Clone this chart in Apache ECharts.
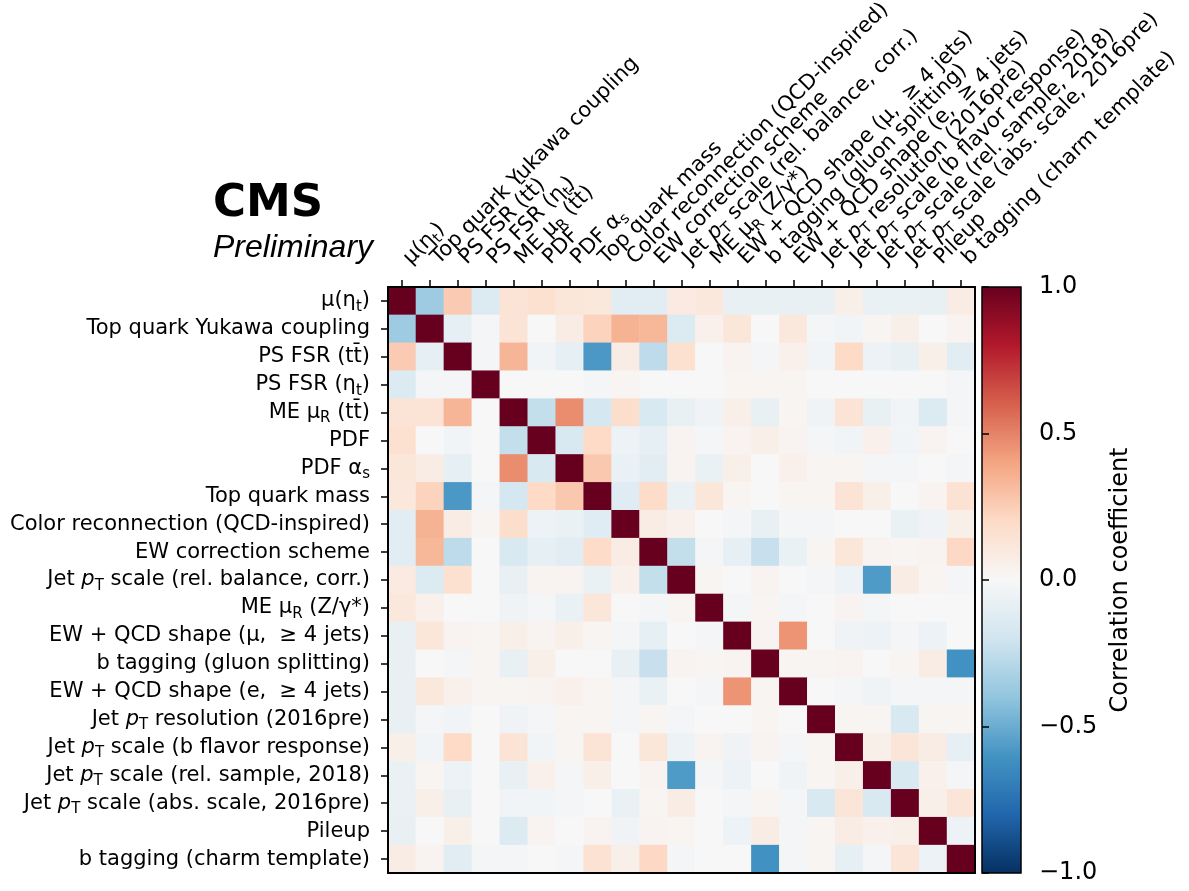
<!DOCTYPE html>
<html>
<head>
<meta charset="utf-8">
<script src="https://cdn.jsdelivr.net/npm/echarts@6/dist/echarts.min.js"></script>
<style>
  html, body { margin: 0; padding: 0; background: #fff; }
  #chart { width: 1189px; height: 891px; }
</style>
</head>
<body>
<div id="chart"></div>
<script>
// Nuisance parameter names (rich-text markup: {sub|..} subscript, {it|..} italic)
const labels = [
  'μ(η{sub|t})',
  'Top quark Yukawa coupling',
  'PS FSR (tt̄)',
  'PS FSR (η{sub|t})',
  'ME μ{sub|R} (tt̄)',
  'PDF',
  'PDF α{sub|s}',
  'Top quark mass',
  'Color reconnection (QCD-inspired)',
  'EW correction scheme',
  'Jet {it|p}{sub|T} scale (rel. balance, corr.)',
  'ME μ{sub|R} (Z/γ*)',
  'EW + QCD shape (μ,  ≥ 4 jets)',
  'b tagging (gluon splitting)',
  'EW + QCD shape (e,  ≥ 4 jets)',
  'Jet {it|p}{sub|T} resolution (2016pre)',
  'Jet {it|p}{sub|T} scale (b flavor response)',
  'Jet {it|p}{sub|T} scale (rel. sample, 2018)',
  'Jet {it|p}{sub|T} scale (abs. scale, 2016pre)',
  'Pileup',
  'b tagging (charm template)'
];

// Correlation matrix, one row per parameter (same order as labels)
const corr = [
  [1, -0.36, 0.26, -0.14, 0.14, 0.16, 0.12, 0.11, -0.11, -0.11, 0.09, 0.11, -0.08, -0.08, -0.08, -0.08, 0.06, -0.07, -0.07, -0.08, 0.08],
  [-0.36, 1, -0.09, -0.02, 0.14, 0, 0.08, 0.23, 0.35, 0.33, -0.14, 0.05, 0.12, 0, 0.11, -0.02, -0.03, 0.02, 0.06, 0, 0.03],
  [0.26, -0.09, 1, -0.02, 0.34, -0.03, -0.09, -0.58, 0.08, -0.26, 0.16, 0, 0.03, -0.02, 0.05, -0.03, 0.2, -0.06, -0.08, 0.06, -0.11],
  [-0.14, -0.02, -0.02, 1, 0, 0, 0, -0.02, 0.02, 0, 0, 0, 0.02, 0.02, 0.02, 0, 0, 0, 0, 0, -0.02],
  [0.14, 0.14, 0.34, 0, 1, -0.24, 0.47, -0.18, 0.18, -0.16, -0.08, -0.04, 0.06, -0.08, 0.02, -0.04, 0.14, -0.08, -0.03, -0.14, -0.02],
  [0.16, 0, -0.03, 0, -0.24, 1, -0.16, 0.2, -0.06, -0.09, 0.03, -0.02, 0.03, 0.06, 0.03, -0.02, -0.03, 0.05, -0.03, 0.03, 0],
  [0.12, 0.08, -0.09, 0, 0.47, -0.16, 1, 0.27, -0.07, -0.11, 0.03, -0.07, 0.06, 0, 0.05, 0.02, 0.02, -0.02, -0.02, 0, -0.02],
  [0.11, 0.23, -0.58, -0.02, -0.18, 0.2, 0.27, 1, -0.12, 0.19, -0.07, 0.12, 0.02, 0, 0.02, 0.02, 0.14, 0.06, 0, 0.03, 0.15],
  [-0.11, 0.35, 0.08, 0.02, 0.18, -0.06, -0.07, -0.12, 1, 0.08, 0.05, 0, -0.02, -0.08, -0.02, -0.02, 0, 0, -0.07, -0.04, 0.06],
  [-0.11, 0.33, -0.26, 0, -0.16, -0.09, -0.11, 0.19, 0.08, 1, -0.24, -0.02, -0.09, -0.23, -0.07, 0.02, 0.12, 0.03, 0.02, 0.03, 0.21],
  [0.09, -0.14, 0.16, 0, -0.08, 0.03, 0.03, -0.07, 0.05, -0.24, 1, 0.02, 0, 0.03, 0, -0.02, -0.06, -0.57, 0.08, 0.02, -0.02],
  [0.11, 0.05, 0, 0, -0.04, -0.02, -0.07, 0.12, 0, -0.02, 0.02, 1, -0.02, 0.02, -0.02, 0, 0.03, -0.02, 0, 0, 0],
  [-0.08, 0.12, 0.03, 0.02, 0.06, 0.03, 0.06, 0.02, -0.02, -0.09, 0, -0.02, 1, 0.03, 0.45, 0, -0.04, -0.06, -0.02, -0.06, 0],
  [-0.08, 0, -0.02, 0.02, -0.08, 0.06, 0, 0, -0.08, -0.23, 0.03, 0.02, 0.03, 1, 0.02, 0.02, 0.03, 0, 0.02, 0.08, -0.61],
  [-0.08, 0.11, 0.05, 0.02, 0.02, 0.03, 0.05, 0.02, -0.02, -0.07, 0, -0.02, 0.45, 0.02, 1, 0, -0.02, -0.04, -0.02, -0.02, -0.02],
  [-0.08, -0.02, -0.03, 0, -0.04, -0.02, 0.02, 0.02, -0.02, 0.02, -0.02, 0, 0, 0.02, 0, 1, 0.02, 0.02, -0.16, 0.02, 0.02],
  [0.06, -0.03, 0.2, 0, 0.14, -0.03, 0.02, 0.14, 0, 0.12, -0.06, 0.03, -0.04, 0.03, -0.02, 0.02, 1, 0.06, 0.13, 0.08, -0.09],
  [-0.07, 0.02, -0.06, 0, -0.08, 0.05, -0.02, 0.06, 0, 0.03, -0.57, -0.02, -0.06, 0, -0.04, 0.02, 0.06, 1, -0.16, 0.05, -0.02],
  [-0.07, 0.06, -0.08, 0, -0.03, -0.03, -0.02, 0, -0.07, 0.02, 0.08, 0, -0.02, 0.02, -0.02, -0.16, 0.13, -0.16, 1, 0.06, 0.13],
  [-0.08, 0, 0.06, 0, -0.14, 0.03, 0, 0.03, -0.04, 0.03, 0.02, 0, -0.06, 0.08, -0.02, 0.02, 0.08, 0.05, 0.06, 1, -0.06],
  [0.08, 0.03, -0.11, -0.02, -0.02, 0, -0.02, 0.15, 0.06, 0.21, -0.02, 0, 0, -0.61, -0.02, 0.02, -0.09, -0.02, 0.13, -0.06, 1]
];

// Colour bar range and tick positions
const cbarMin = -1;
const cbarMax = 1;
const cbarTicks = [-1, -0.5, 0, 0.5, 1];

// Diverging red-blue palette, ordered from -1 to +1
const rdbu = ['#053061', '#2166ac', '#4393c3', '#92c5de', '#d1e5f0', '#f7f7f7',
              '#fddbc7', '#f4a582', '#d6604d', '#b2182b', '#67001f'];

const cells = [];
corr.forEach((row, i) => row.forEach((v, j) => cells.push([j, i, v])));

const FONT = 'DejaVu Sans';
const LABEL_SIZE = 21;
const richLabel = {
  sub: { fontSize: 15, lineHeight: 15, verticalAlign: 'bottom', fontFamily: FONT, color: '#000' },
  it: { fontStyle: 'italic', fontSize: LABEL_SIZE, fontFamily: FONT, color: '#000' }
};

const chart = echarts.init(document.getElementById('chart'), null, { renderer: 'canvas' });

const gradStops = rdbu.slice().reverse().map((c, k) => ({ offset: k / (rdbu.length - 1), color: c }));

chart.setOption({
  animation: false,
  backgroundColor: '#fff',
  grid: [
    { left: 388, top: 287, width: 587, height: 586, containLabel: false, outerBoundsMode: 'none' },
    { left: 982, top: 287, width: 39, height: 586, containLabel: false, outerBoundsMode: 'none' }
  ],
  xAxis: [
    {
      type: 'category', gridIndex: 0, position: 'top', data: labels, z: 10,
      axisLine: { show: true, lineStyle: { color: '#000', width: 2 } },
      axisTick: { show: true, alignWithLabel: true, length: 7, lineStyle: { color: '#000', width: 1.5 } },
      splitLine: { show: false },
      axisLabel: {
        interval: 0, rotate: -45, margin: 21, padding: [0, 0, 0, 7],
        fontSize: LABEL_SIZE, fontFamily: FONT, color: '#000',
        lineHeight: 27, rich: richLabel
      }
    },
    {
      type: 'category', gridIndex: 0, position: 'bottom', data: labels, z: 10,
      axisLine: { show: true, lineStyle: { color: '#000', width: 2 } },
      axisTick: { show: false }, axisLabel: { show: false }, splitLine: { show: false }
    },
    { type: 'value', gridIndex: 1, min: 0, max: 1, show: false }
  ],
  yAxis: [
    {
      type: 'category', gridIndex: 0, inverse: true, data: labels, z: 10,
      axisLine: { show: true, lineStyle: { color: '#000', width: 2 } },
      axisTick: { show: true, alignWithLabel: true, length: 7, lineStyle: { color: '#000', width: 1.5 } },
      splitLine: { show: false },
      axisLabel: {
        interval: 0, margin: 18, fontSize: LABEL_SIZE, fontFamily: FONT, color: '#000',
        lineHeight: 27, rich: richLabel
      }
    },
    {
      type: 'category', gridIndex: 0, position: 'right', inverse: true, data: labels, z: 10,
      axisLine: { show: true, lineStyle: { color: '#000', width: 2 } },
      axisTick: { show: false }, axisLabel: { show: false }, splitLine: { show: false }
    },
    {
      type: 'value', gridIndex: 1, position: 'right', min: cbarMin, max: cbarMax, interval: 0.5, z: 10,
      axisLine: { show: false },
      axisTick: { show: true, length: 7, lineStyle: { color: '#000', width: 1.5 } },
      splitLine: { show: false },
      axisLabel: {
        margin: 18, fontSize: 24, fontFamily: FONT, color: '#000',
        formatter: v => cbarTicks.includes(v) ? (v < 0 ? '\u2212' : '') + Math.abs(v).toFixed(1) : ''
      },
      name: 'Correlation coefficient', nameLocation: 'middle', nameRotate: 90, nameGap: 88,
      nameTextStyle: { fontSize: 24, fontFamily: FONT, color: '#000' }
    }
  ],
  visualMap: {
    show: false, type: 'continuous', seriesIndex: 0, dimension: 2,
    min: cbarMin, max: cbarMax, inRange: { color: rdbu }
  },
  series: [
    {
      type: 'heatmap', xAxisIndex: 0, yAxisIndex: 0, data: cells,
      itemStyle: { borderWidth: 0 }, emphasis: { disabled: true }
    },
    {
      type: 'custom', xAxisIndex: 2, yAxisIndex: 2, clip: false,
      data: [[0, cbarMin]],
      renderItem: (params, api) => {
        const p0 = api.coord([0, cbarMax]);
        const p1 = api.coord([1, cbarMin]);
        return {
          type: 'rect',
          shape: { x: p0[0], y: p0[1], width: p1[0] - p0[0], height: p1[1] - p0[1] },
          style: {
            fill: new echarts.graphic.LinearGradient(0, 0, 0, 1, gradStops),
            stroke: '#000', lineWidth: 1.5
          }
        };
      }
    }
  ],
  graphic: [
    {
      type: 'text', left: 213, top: 182,
      style: { text: 'CMS', fontSize: 45, fontWeight: 'bold', fontFamily: FONT, fill: '#000' }
    },
    {
      type: 'text', left: 213, top: 232,
      style: { text: 'Preliminary', fontSize: 32, fontStyle: 'italic', fontFamily: 'Liberation Sans', fill: '#000' }
    }
  ]
});
</script>
</body>
</html>
